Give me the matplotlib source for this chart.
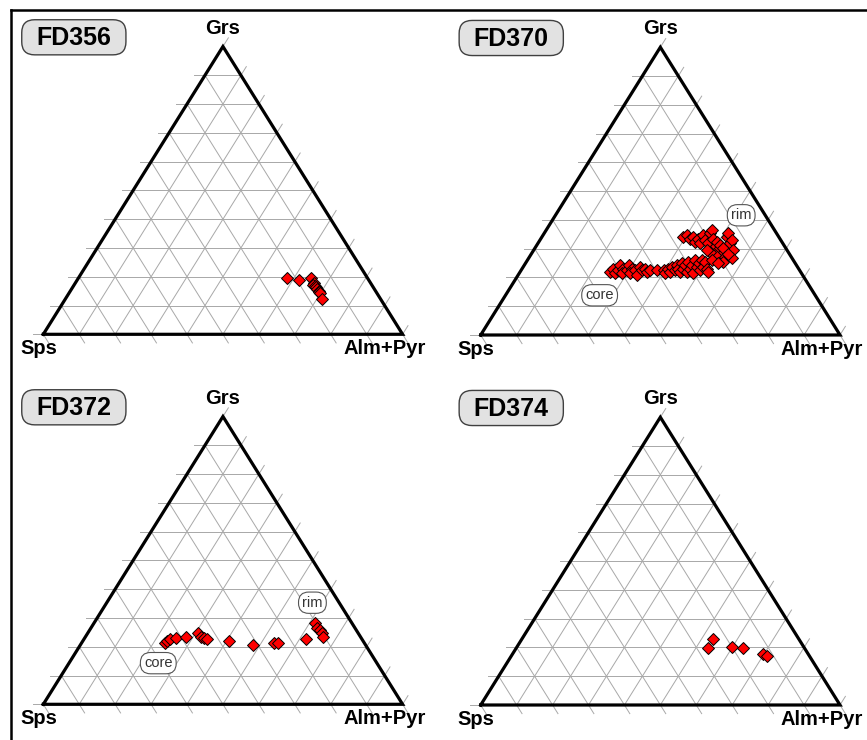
import numpy as np
import matplotlib.pyplot as plt
from matplotlib.lines import Line2D
from matplotlib.patches import FancyBboxPatch

plt.rcParams['font.family'] = ['Liberation Sans', 'DejaVu Sans']

# garnet compositions as mole fractions: Grs and Alm+Pyr (Sps = 1 - Grs - Alm)
fd356_grs = [0.197, 0.189, 0.195, 0.177, 0.171, 0.168, 0.166, 0.156, 0.152, 0.148, 0.143, 0.122]
fd356_alm = [0.581, 0.617, 0.648, 0.665, 0.666, 0.671, 0.676, 0.683, 0.690, 0.694, 0.699, 0.714]

fd370_grs = [0.220, 0.231, 0.214, 0.226, 0.243, 0.231, 0.214, 0.226, 0.243, 0.231,
             0.214, 0.226, 0.208, 0.237, 0.226, 0.231, 0.220, 0.226, 0.226,
             0.226, 0.214, 0.231, 0.220, 0.237, 0.226, 0.243, 0.231, 0.220, 0.249,
             0.231, 0.243, 0.220, 0.254, 0.231, 0.243, 0.214, 0.260, 0.237, 0.249,
             0.226, 0.260, 0.237, 0.254, 0.231, 0.220,
             0.341, 0.347, 0.335, 0.341, 0.324, 0.335, 0.318, 0.347, 0.330, 0.318,
             0.353, 0.364, 0.335, 0.306, 0.324, 0.295, 0.312, 0.283, 0.301, 0.272,
             0.341, 0.353, 0.318, 0.330, 0.295, 0.266, 0.254, 0.278, 0.289, 0.295,
             0.260, 0.249, 0.283]
fd370_alm = [0.250, 0.253, 0.267, 0.270, 0.266, 0.281, 0.285, 0.294, 0.290, 0.305,
             0.309, 0.317, 0.330, 0.325, 0.335, 0.342, 0.352, 0.358, 0.377,
             0.396, 0.406, 0.407, 0.417, 0.413, 0.428, 0.424, 0.434, 0.445, 0.435,
             0.448, 0.447, 0.463, 0.451, 0.467, 0.466, 0.485, 0.466, 0.483, 0.482,
             0.498, 0.485, 0.501, 0.497, 0.513, 0.524,
             0.393, 0.400, 0.415, 0.421, 0.435, 0.438, 0.451, 0.446, 0.460, 0.475,
             0.462, 0.461, 0.480, 0.499, 0.495, 0.514, 0.510, 0.529, 0.525, 0.544,
             0.514, 0.513, 0.535, 0.534, 0.556, 0.566, 0.548, 0.513, 0.494, 0.482,
             0.513, 0.537, 0.548]

fd372_grs = [0.214, 0.221, 0.226, 0.232, 0.234, 0.247, 0.235, 0.229, 0.228, 0.221,
             0.205, 0.213, 0.212, 0.226, 0.284, 0.264, 0.258, 0.247, 0.235]
fd372_alm = [0.233, 0.235, 0.241, 0.252, 0.279, 0.306, 0.321, 0.333, 0.342, 0.405,
             0.481, 0.535, 0.548, 0.617, 0.615, 0.630, 0.641, 0.651, 0.660]

fd374_grs = [0.228, 0.198, 0.201, 0.198, 0.178, 0.171]
fd374_alm = [0.532, 0.534, 0.598, 0.631, 0.698, 0.712]

samples = ['FD356', 'FD370', 'FD372', 'FD374']
grs_data = [fd356_grs, fd370_grs, fd372_grs, fd374_grs]
alm_data = [fd356_alm, fd370_alm, fd372_alm, fd374_alm]

# core / rim tags (axes data coords), only for zoned samples
tags = {
    'FD370': [('rim', 0.725, 0.416), ('core', 0.331, 0.138)],
    'FD372': [('rim', 0.749, 0.353), ('core', 0.320, 0.143)],
}

TICK = 0.03
GRID_C = '#a8a8a8'


def tern_xy(grs, alm):
    grs = np.asarray(grs, dtype=float)
    alm = np.asarray(alm, dtype=float)
    return alm + grs / 2.0, grs


def draw_frame(ax):
    """Grid, ticks and triangle outline."""
    for v in np.linspace(0, 1, 11):
        # constant Grs, tick to the left
        if v < 1:
            x, y = tern_xy([v, v], [-TICK, 1 - v])
            ax.plot(x, y, color=GRID_C, lw=0.7, zorder=1, clip_on=False)
        # constant Alm, tick up-right past the right edge
        x, y = tern_xy([0, 1 - v + TICK], [v, v])
        ax.plot(x, y, color=GRID_C, lw=0.7, zorder=1, clip_on=False)
        # constant Sps, tick down-right below the base
        x, y = tern_xy([1 - v, -TICK], [0, 1 - v + TICK])
        ax.plot(x, y, color=GRID_C, lw=0.7, zorder=1, clip_on=False)

    x, y = tern_xy([0, 0, 1, 0], [0, 1, 0, 0])
    ax.plot(x, y, color='black', lw=2.3, zorder=3, clip_on=False,
            solid_joinstyle='miter')


def plot_panel(ax, name, grs, alm):
    ax.set_xlim(0, 1)
    ax.set_ylim(0, 1)
    ax.axis('off')
    draw_frame(ax)

    x, y = tern_xy(grs, alm)
    ax.plot(x, y, 'D', ms=6.6, mfc='#ff0000', mec='black', mew=0.7,
            linestyle='none', zorder=4, clip_on=False)

    ax.text(0.5, 1.045, 'Grs', ha='center', va='baseline', fontsize=14.5,
            fontweight='bold')
    ax.text(-0.065, -0.07, 'Sps', ha='left', va='baseline', fontsize=14.5,
            fontweight='bold')
    ax.text(1.065, -0.07, 'Alm+Pyr', ha='right', va='baseline', fontsize=14.5,
            fontweight='bold')

    # sample name in a grey rounded box
    box = FancyBboxPatch((-0.060, 0.971), 0.290, 0.122,
                         boxstyle='round,pad=0,rounding_size=0.036',
                         mutation_aspect=1.25, fc='#e2e2e2', ec='#404040',
                         lw=1.0, clip_on=False, zorder=5)
    ax.add_patch(box)
    ax.text(0.085, 1.030, name, ha='center', va='center', fontsize=18,
            fontweight='bold', zorder=6)

    for label, tx, ty in tags.get(name, []):
        ax.text(tx, ty, label, ha='center', va='center', fontsize=10.5,
                color='#333333', zorder=5,
                bbox=dict(boxstyle='round,pad=0.25,rounding_size=0.7',
                          fc='white', ec='#555555', lw=0.8))


fig = plt.figure(figsize=(8.67, 7.40), dpi=100)

W, H = 867.0, 740.0
positions = [(43.3, 334.3), (480.7, 335.0), (43.3, 704.3), (480.7, 705.0)]
for (px, py), name, g, a in zip(positions, samples, grs_data, alm_data):
    ax = fig.add_axes([px / W, (H - py) / H, 359.3 / W, 287.8 / H])
    plot_panel(ax, name, g, a)

# outer frame (left and top only)
fig.add_artist(Line2D([11 / W, 11 / W], [0, 1 - 10 / H], color='black',
                      lw=1.8, transform=fig.transFigure))
fig.add_artist(Line2D([11 / W, 1], [1 - 10 / H, 1 - 10 / H], color='black',
                      lw=1.8, transform=fig.transFigure))

fig.savefig('out.png', dpi=100)
